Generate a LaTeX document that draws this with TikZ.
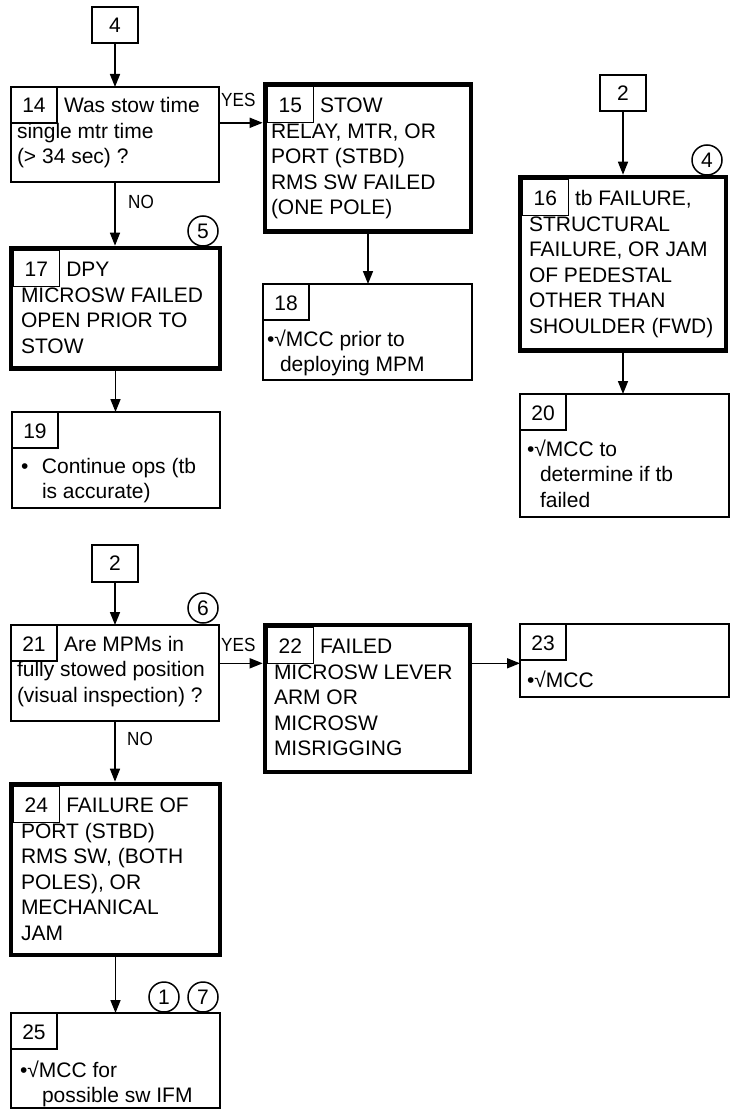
\documentclass[tikz,border=0pt]{standalone}
\usepackage{fontspec}
\setmainfont{Liberation Sans}
\newfontfamily\narrowfont[FakeStretch=0.9]{Liberation Sans}
\usetikzlibrary{arrows.meta}
\newcommand\fs{\fontsize{21}{25.5}\selectfont}
\newcommand\ml[1]{\begin{tabular}[t]{@{}l@{}}#1\end{tabular}}
\begin{document}
\begin{tikzpicture}[x=1pt,y=-1pt,
  box/.style={draw, line width=1.6pt, outer sep=0pt, inner sep=0pt, anchor=north west, font=\fs},
  tbox/.style={box, line width=4.6pt},
  nbox/.style={draw, line width=1.4pt, outer sep=0pt, inner sep=0pt, anchor=north west, minimum width=46pt, minimum height=36pt, font=\fs, text height=19pt, text depth=3pt},
  txt/.style={anchor=base west, inner sep=0pt, outer sep=0pt, font=\fs},
  lbl/.style={anchor=base west, inner sep=0pt, font=\narrowfont\fontsize{19}{19}\selectfont},
  num/.style={draw, circle, line width=1.5pt, minimum size=30pt, inner sep=0pt, font=\fs},
  arr/.style={line width=1.6pt, -{Triangle[length=13pt,width=10pt]}},
]
\useasboundingbox (0,0) rectangle (731,1110);

% ---------- top-left group ----------
\node[box, minimum width=46pt, minimum height=36pt] (c4) at (92,7) {};
\node[font=\fs, inner sep=0pt] (c4t) at (c4.center) {4};

\node[box, minimum width=208pt, minimum height=95pt] (b14) at (11,87) {};
\node[nbox] (n14) at (11,87) {14};
\node[txt] (t14a) at (64,113) {Was stow time};
\node[txt] (t14b) at (17,138.5) {\ml{single mtr time\\(> 34 sec) ?}};

\node[tbox, minimum width=206pt, minimum height=147pt] (b15) at (265,84.5) {};
\node[nbox] (n15) at (267.3,86.8) {15};
\node[txt] (t15a) at (320,113) {STOW};
\node[txt] (t15b) at (271,138.5) {\ml{RELAY, MTR, OR\\PORT (STBD)\\RMS SW FAILED\\(ONE POLE)}};

\node[box, minimum width=209pt, minimum height=96pt] (b18) at (263,284) {};
\node[nbox] (n18) at (263,284) {18};
\node[txt] (t18) at (267,346) {\ml{•√MCC prior to\\\hspace*{13pt}deploying MPM}};

\node[tbox, minimum width=209pt, minimum height=120.5pt] (b17) at (11,248) {};
\node[nbox] (n17) at (13.3,250.3) {17};
\node[txt] (t17a) at (66.3,276.5) {DPY};
\node[txt] (t17b) at (21,302) {\ml{MICROSW FAILED\\OPEN PRIOR TO\\STOW}};
\node[num] (k5) at (203,231) {5};

\node[box, minimum width=208pt, minimum height=96pt] (b19) at (12,412) {};
\node[nbox] (n19) at (12,412) {19};
\node[txt] (t19) at (21,473) {\ml{\makebox[21pt][l]{•}Continue ops (tb\\\hspace*{21pt}is accurate)}};

% ---------- top-right group ----------
\node[box, minimum width=46pt, minimum height=36pt] (c2) at (600,75) {};
\node[font=\fs, inner sep=0pt] (c2t) at (c2.center) {2};

\node[tbox, minimum width=206pt, minimum height=173.5pt] (b16) at (520,177) {};
\node[nbox] (n16) at (522.3,179.3) {16};
\node[txt] (t16a) at (575,205.5) {tb FAILURE,};
\node[txt] (t16b) at (529,231) {\ml{STRUCTURAL\\FAILURE, OR JAM\\OF PEDESTAL\\OTHER THAN\\SHOULDER (FWD)}};
\node[num] (k4) at (707,160) {4};

\node[box, minimum width=209pt, minimum height=123pt] (b20) at (520,394) {};
\node[nbox] (n20) at (520,394) {20};
\node[txt] (t20) at (527,456) {\ml{•√MCC to\\\hspace*{13pt}determine if tb\\\hspace*{13pt}failed}};

% ---------- lower group ----------
\node[box, minimum width=46pt, minimum height=37pt] (c2b) at (92,545) {};
\node[font=\fs, inner sep=0pt] (c2bt) at (c2b.center) {2};

\node[box, minimum width=208pt, minimum height=96pt] (b21) at (11,625) {};
\node[nbox] (n21) at (11,625) {21};
\node[txt] (t21a) at (64,651) {Are MPMs in};
\node[txt] (t21b) at (17,676.5) {\ml{fully stowed position\\(visual inspection) ?}};
\node[num] (k6) at (203,608) {6};

\node[tbox, minimum width=205pt, minimum height=147pt] (b22) at (265,625) {};
\node[nbox] (n22) at (267.3,627.3) {22};
\node[txt] (t22a) at (320,653.5) {FAILED};
\node[txt] (t22b) at (274,679) {\ml{MICROSW LEVER\\ARM OR\\MICROSW\\MISRIGGING}};

\node[box, minimum width=209pt, minimum height=73pt] (b23) at (520,624) {};
\node[nbox] (n23) at (520,624) {23};
\node[txt] (t23) at (527,687) {•√MCC};

\node[tbox, minimum width=209pt, minimum height=171pt] (b24) at (11,784) {};
\node[nbox] (n24) at (13.3,786.3) {24};
\node[txt] (t24a) at (66.3,812.5) {FAILURE OF};
\node[txt] (t24b) at (21,838) {\ml{PORT (STBD)\\RMS SW, (BOTH\\POLES), OR\\MECHANICAL\\JAM}};

\node[box, minimum width=209pt, minimum height=95pt] (b25) at (11,1013) {};
\node[nbox] (n25) at (11,1013) {25};
\node[txt] (t25) at (20,1077) {\ml{•√MCC for\\\hspace*{22pt}possible sw IFM}};
\node[num] (k1) at (164,997) {1};
\node[num] (k7) at (203,997) {7};

% ---------- connectors ----------
\draw[arr] (c4.south) -- (c4.south |- b14.north);
\draw[arr, shorten >=2.3pt] (b14.east |- n15.south) -- (b15.west |- n15.south);
\node[lbl] (yes1) at (221,107) {YES};
\draw[arr, shorten >=2.3pt] (b14.south) -- (b14.south |- b17.north);
\node[lbl] (no1) at (128,208) {NO};
\draw[arr] (b15.south) -- (b15.south |- b18.north);
\draw[arr] (b17.south) -- (b17.south |- b19.north);
\draw[arr, shorten >=2.3pt] (c2.south) -- (c2.south |- b16.north);
\draw[arr] (b16.south) -- (b16.south |- b20.north);

\draw[arr] (c2b.south) -- (c2b.south |- b21.north);
\draw[arr, shorten >=2.3pt] (b21.east |- n22.south) -- (b22.west |- n22.south);
\node[lbl] (yes2) at (221,651) {YES};
\draw[arr] (b22.east |- n22.south) -- (b23.west |- n22.south);
\draw[arr, shorten >=2.3pt] (b21.south) -- (b21.south |- b24.north);
\node[lbl] (no2) at (127,745) {NO};
\draw[arr] (b24.south) -- (b24.south |- b25.north);
\end{tikzpicture}
\end{document}
